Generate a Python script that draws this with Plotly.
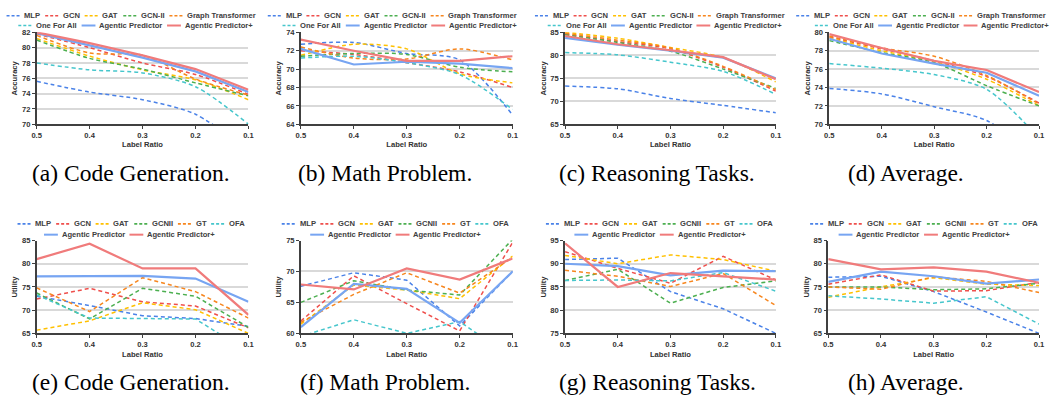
import plotly.graph_objects as go

W, H = 1050, 398

ratios = ["0.5", "0.4", "0.3", "0.2", "0.1"]
keys = ["mlp", "gcn", "gat", "gcn2", "gt", "ofa", "ap", "app"]
names_top = ["MLP", "GCN", "GAT", "GCN-II", "Graph Transformer", "One For All",
             "Agentic Predictor", "Agentic Predictor+"]
names_bottom = ["MLP", "GCN", "GAT", "GCNII", "GT", "OFA",
                "Agentic Predictor", "Agentic Predictor+"]

# ---- Accuracy (top row) ----
acc_code = dict(
    mlp=[75.6, 74.2, 73.2, 71.3, 66.5], gcn=[81.8, 80.0, 78.0, 76.5, 73.9],
    gat=[81.2, 78.9, 77.1, 75.8, 73.2], gcn2=[81.0, 78.6, 77.2, 75.4, 73.7],
    gt=[81.6, 79.3, 79.0, 75.9, 73.8], ofa=[78.0, 77.1, 76.7, 74.9, 70.0],
    ap=[81.9, 80.3, 78.7, 76.9, 74.2], app=[82.0, 80.6, 79.0, 77.2, 74.5])
acc_math = dict(
    mlp=[72.7, 72.9, 71.7, 71.0, 65.0], gcn=[72.0, 71.6, 70.7, 69.7, 68.0],
    gat=[71.5, 72.7, 72.2, 69.5, 68.5], gcn2=[71.4, 71.7, 71.6, 70.2, 69.7],
    gt=[72.4, 71.2, 71.1, 72.2, 71.0], ofa=[71.2, 71.4, 70.7, 69.4, 65.6],
    ap=[72.2, 70.5, 70.8, 70.6, 70.1], app=[73.2, 72.0, 70.9, 70.9, 71.4])
acc_reason = dict(
    mlp=[73.3, 72.7, 70.6, 69.1, 67.5], gcn=[84.6, 83.0, 81.4, 77.4, 72.2],
    gat=[85.0, 83.7, 81.7, 79.5, 74.2], gcn2=[84.5, 82.8, 80.9, 77.0, 72.8],
    gt=[84.8, 83.3, 81.6, 77.6, 72.5], ofa=[80.6, 80.1, 78.5, 76.5, 71.5],
    ap=[83.8, 82.3, 81.0, 79.5, 75.0], app=[84.2, 82.4, 81.1, 79.6, 74.8])
acc_avg = dict(
    mlp=[73.9, 73.3, 71.9, 70.4, 66.3], gcn=[79.5, 78.2, 76.9, 75.2, 72.3],
    gat=[79.4, 78.0, 76.8, 74.9, 72.0], gcn2=[79.1, 77.8, 76.7, 74.2, 72.0],
    gt=[79.6, 78.3, 77.4, 75.3, 72.2], ofa=[76.6, 76.1, 75.4, 73.8, 68.5],
    ap=[79.3, 77.7, 76.6, 75.6, 73.1], app=[79.8, 78.3, 76.9, 75.9, 73.5])

# ---- Utility (bottom row) ----
util_code = dict(
    mlp=[73.0, 71.0, 68.8, 68.2, 66.5], gcn=[72.4, 74.7, 71.8, 70.9, 66.2],
    gat=[65.7, 67.7, 71.6, 70.1, 65.0], gcn2=[73.7, 68.1, 74.7, 73.0, 66.3],
    gt=[74.8, 69.7, 77.0, 74.0, 68.3], ofa=[73.3, 68.3, 68.2, 68.1, 61.0],
    ap=[77.3, 77.3, 77.4, 76.8, 71.8], app=[81.0, 84.3, 79.0, 79.0, 69.0])
util_math = dict(
    mlp=[67.6, 69.8, 68.6, 61.2, 70.0], gcn=[62.0, 69.3, 64.8, 60.4, 74.7],
    gat=[61.5, 67.8, 67.0, 65.6, 72.5], gcn2=[65.0, 68.5, 67.0, 66.2, 75.2],
    gt=[61.8, 66.3, 69.8, 66.5, 72.3], ofa=[59.5, 62.2, 60.0, 61.9, 56.0],
    ap=[61.0, 68.0, 67.2, 61.7, 70.0], app=[67.9, 67.1, 70.5, 68.7, 72.1])
util_reason = dict(
    mlp=[90.9, 91.2, 84.0, 80.3, 75.0], gcn=[92.6, 89.0, 85.8, 91.6, 86.5],
    gat=[91.8, 90.0, 91.9, 90.9, 88.4], gcn2=[86.4, 88.8, 81.5, 84.9, 86.3],
    gt=[88.6, 87.3, 85.1, 87.9, 81.0], ofa=[86.4, 86.5, 86.3, 88.1, 84.1],
    ap=[90.0, 89.5, 87.5, 88.5, 88.4], app=[94.4, 85.0, 88.0, 87.3, 86.6])
util_avg = dict(
    mlp=[77.1, 77.3, 74.0, 69.6, 65.0], gcn=[75.6, 77.6, 74.1, 74.2, 76.0],
    gat=[72.8, 75.0, 77.0, 75.6, 75.3], gcn2=[75.0, 75.0, 74.4, 74.6, 75.8],
    gt=[75.0, 74.5, 77.2, 76.2, 73.8], ofa=[73.1, 72.4, 71.5, 72.9, 67.0],
    ap=[76.1, 78.3, 77.3, 75.7, 76.6], app=[81.0, 78.8, 79.2, 78.3, 75.9])

captions = ["(a) Code Generation.", "(b) Math Problem.", "(c) Reasoning Tasks.", "(d) Average.",
            "(e) Code Generation.", "(f) Math Problem.", "(g) Reasoning Tasks.", "(h) Average."]

# ---- styles ----
colors = dict(mlp="#4a82e8", gcn="#ef4f4c", gat="#ffc000", gcn2="#4caf50",
              gt="#f7861e", ofa="#46c6cc", ap="#77a5f2", app="#f07b7b")
DASH = "4px,3px"

panels = [
    dict(data=acc_code, rng=[70, 82], dt=2, ytitle="Accuracy", row=0),
    dict(data=acc_math, rng=[64, 74], dt=2, ytitle="Accuracy", row=0),
    dict(data=acc_reason, rng=[65, 85], dt=5, ytitle="Accuracy", row=0),
    dict(data=acc_avg, rng=[70, 80], dt=2, ytitle="Accuracy", row=0),
    dict(data=util_code, rng=[65, 85], dt=5, ytitle="Utility", row=1),
    dict(data=util_math, rng=[60, 75], dt=5, ytitle="Utility", row=1),
    dict(data=util_reason, rng=[75, 95], dt=5, ytitle="Utility", row=1),
    dict(data=util_avg, rng=[65, 85], dt=5, ytitle="Utility", row=1),
]
xdom_px = [(32, 246), (299, 513), (566, 779), (833, 1045),
           (32, 246), (299, 513), (566, 779), (832, 1045)]
ydom_px = [(29, 123), (242, 337)]
cap_x = [127, 384, 659, 911, 127, 384, 659, 911]
cap_y = [173, 387]
leg_rows_y = [(12, 22), (225, 236)]
leg_cx = [(127, 131), (391, 398), (661, 666), (925, 936),
          (127, 125), (394, 394), (661, 661), (928, 928)]

AXIS_FONT = dict(family="Liberation Sans, Arial", size=7.6, color="#333333", weight="bold")
LEG_SIZE = 7.6
LEG_FONT = dict(family="Liberation Sans, Arial", size=LEG_SIZE, color="#404040", weight="bold")

fig = go.Figure()
layout = dict(width=W, height=H, margin=dict(l=0, r=0, t=0, b=0),
              paper_bgcolor="white", plot_bgcolor="white", showlegend=False)

for i, p in enumerate(panels):
    n = i + 1
    xa = "x" if n == 1 else f"x{n}"
    ya = "y" if n == 1 else f"y{n}"
    names = names_top if p["row"] == 0 else names_bottom
    for k, nm in zip(keys, names):
        solid = k in ("ap", "app")
        line = dict(color=colors[k], width=2.2 if solid else 1.5,
                    dash="solid" if solid else DASH)
        if p["row"] == 0 and not solid:
            line.update(shape="spline", smoothing=0.8)
        fig.add_trace(go.Scatter(x=ratios, y=p["data"][k], mode="lines", name=nm,
                                 line=line, xaxis=xa, yaxis=ya, showlegend=False))
    x0, x1 = xdom_px[i]
    y0, y1 = ydom_px[p["row"]]
    layout["xaxis" if n == 1 else f"xaxis{n}"] = dict(
        domain=[x0 / W, x1 / W], anchor=ya, type="category",
        categoryorder="array", categoryarray=ratios, range=[0, 4],
        showgrid=False, showline=True, linecolor="#404040", linewidth=1.5,
        ticks="outside", ticklen=3, tickcolor="#404040", tickwidth=1,
        tickfont=AXIS_FONT, zeroline=False, ticklabeloverflow="allow",
        title=dict(text="Label Ratio", font=AXIS_FONT, standoff=3))
    layout["yaxis" if n == 1 else f"yaxis{n}"] = dict(
        domain=[1 - y1 / H, 1 - y0 / H], anchor=xa, range=p["rng"],
        tickmode="linear", tick0=p["rng"][0], dtick=p["dt"],
        showgrid=True, gridcolor="#d9d9d9", gridwidth=1.5,
        showline=True, linecolor="#404040", linewidth=1.5,
        ticks="outside", ticklen=3, tickcolor="#404040", tickwidth=1,
        tickfont=AXIS_FONT, zeroline=False,
        title=dict(text=p["ytitle"], font=AXIS_FONT, standoff=3))

fig.update_layout(**layout)

# ---- legends (drawn per panel, Excel-style compact) ----
CW = {' ': 278, '(': 333, ')': 333, '+': 584, '-': 333, '.': 278,
      'A': 722, 'C': 722, 'F': 611, 'G': 778, 'I': 278, 'L': 611, 'M': 833, 'N': 722,
      'O': 778, 'P': 667, 'R': 722, 'T': 611,
      'a': 556, 'c': 556, 'd': 611, 'e': 556, 'f': 333, 'g': 611, 'h': 611, 'i': 278,
      'l': 278, 'm': 889, 'n': 611, 'o': 611, 'p': 611, 'r': 389, 's': 556, 't': 333,
      'u': 611, 'y': 556}


def tw(s, size):
    return sum(CW.get(c, 556) for c in s) * size / 1000.0


def legend_row(items, cx, cy, size=LEG_SIZE, sym=14, gap=3, sp=6):
    total = sum(sym + gap + tw(nm, size) for nm, _ in items) + sp * (len(items) - 1)
    x = cx - total / 2
    yy = 1 - cy / H
    for nm, k in items:
        solid = k in ("ap", "app")
        fig.add_shape(type="line", xref="paper", yref="paper",
                      x0=x / W, x1=(x + sym) / W, y0=yy, y1=yy,
                      line=dict(color=colors[k], width=2.0 if solid else 1.6,
                                dash="solid" if solid else "3px,2px"))
        fig.add_annotation(x=(x + sym + gap) / W, y=yy, xref="paper", yref="paper",
                           text=nm, showarrow=False, xanchor="left", yanchor="middle",
                           font=LEG_FONT, borderpad=0)
        x += sym + gap + tw(nm, size) + sp


for i, p in enumerate(panels):
    names = names_top if p["row"] == 0 else names_bottom
    pairs = list(zip(names, keys))
    split = 5 if p["row"] == 0 else 6
    r1y, r2y = leg_rows_y[p["row"]]
    legend_row(pairs[:split], leg_cx[i][0], r1y)
    legend_row(pairs[split:], leg_cx[i][1], r2y)
    fig.add_annotation(x=cap_x[i] / W, y=1 - cap_y[p["row"]] / H, xref="paper", yref="paper",
                       text=captions[i], showarrow=False, xanchor="center", yanchor="middle",
                       font=dict(family="Liberation Serif, Times New Roman", size=23.5, color="black"))

fig.write_html("out.html", config={"displayModeBar": False},
               post_script="document.body.style.margin='0px';document.body.style.padding='0px';")
